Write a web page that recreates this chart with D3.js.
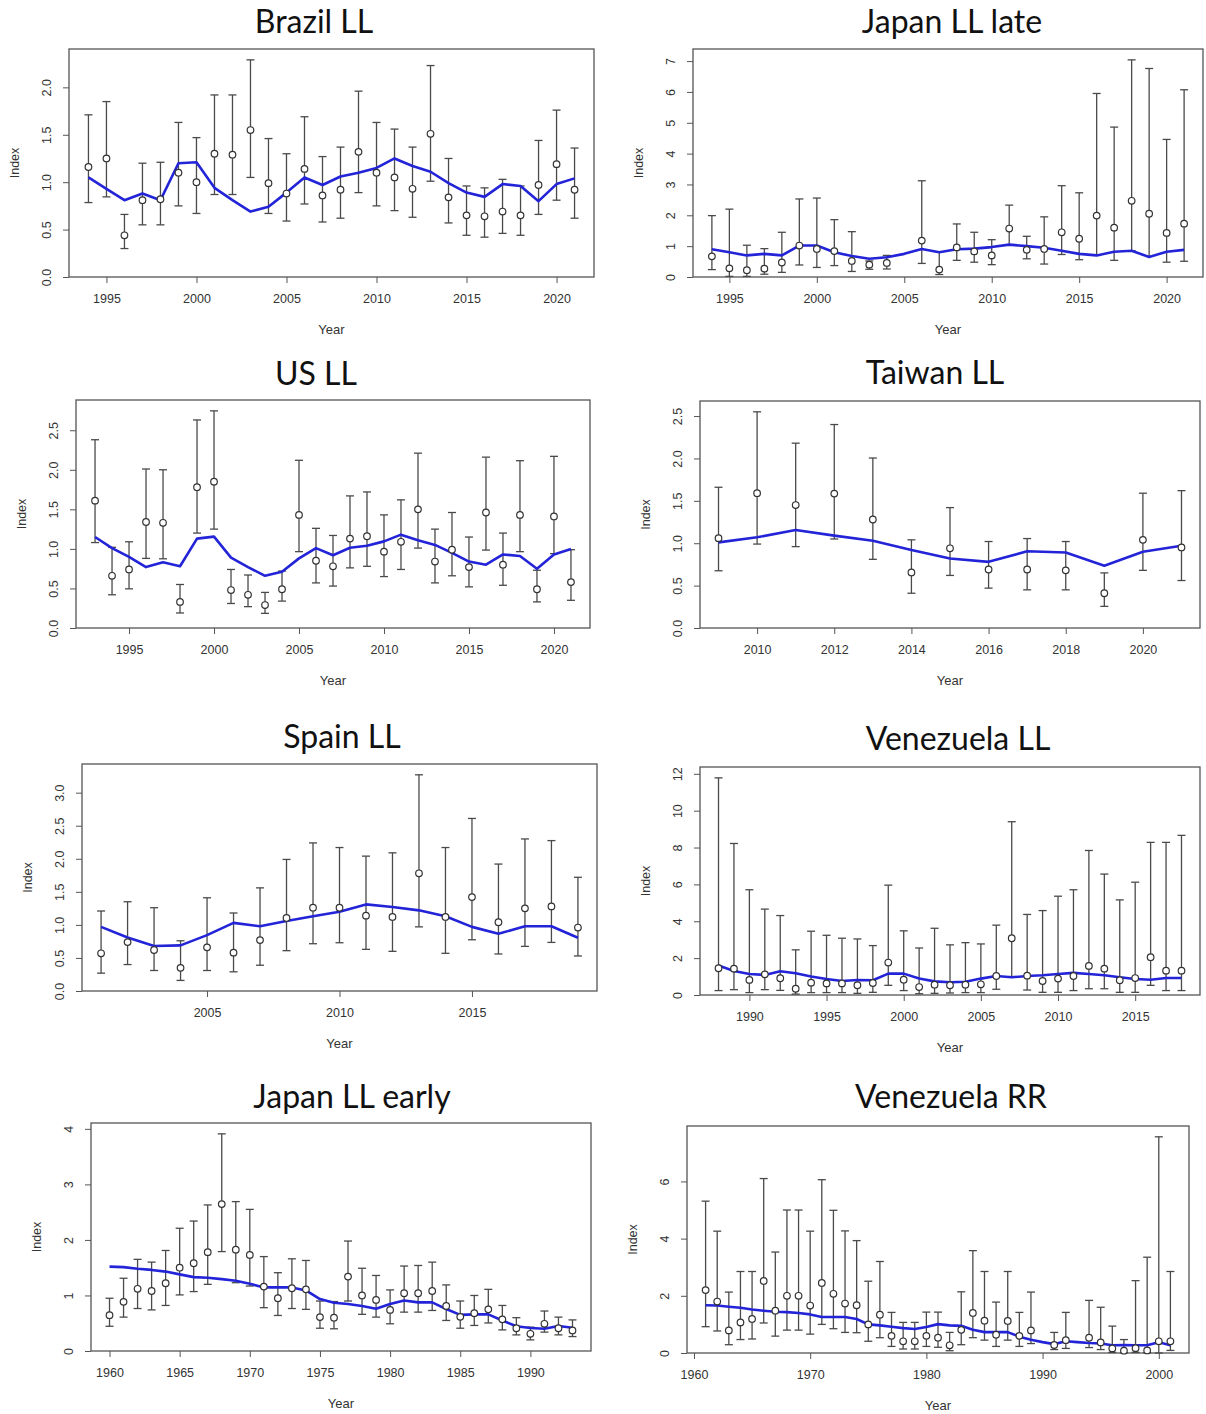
<!DOCTYPE html>
<html><head><meta charset="utf-8">
<script src="https://cdn.jsdelivr.net/npm/d3@7"></script>
<style>body{margin:0;background:#fff}svg{display:block}</style>
</head><body>
<svg id="c" width="1206" height="1414"></svg>
<script>
// ---------------- DATA ----------------
const brazilYears = [1994,1995,1996,1997,1998,1999,2000,2001,2002,2003,2004,2005,2006,2007,2008,2009,2010,2011,2012,2013,2014,2015,2016,2017,2018,2019,2020,2021];
const brazilObs = [1.16,1.25,0.44,0.81,0.82,1.10,1.00,1.30,1.29,1.55,0.99,0.88,1.14,0.86,0.92,1.32,1.10,1.05,0.93,1.51,0.84,0.65,0.64,0.69,0.65,0.97,1.19,0.92];
const brazilHi = [1.71,1.85,0.66,1.20,1.21,1.63,1.47,1.92,1.92,2.29,1.46,1.30,1.69,1.27,1.37,1.96,1.63,1.56,1.37,2.23,1.25,0.96,0.94,1.03,0.96,1.44,1.76,1.36];
const brazilLo = [0.785,0.845,0.30,0.55,0.55,0.75,0.67,0.87,0.87,1.05,0.67,0.59,0.77,0.58,0.62,0.89,0.75,0.70,0.63,1.01,0.57,0.44,0.42,0.46,0.44,0.66,0.81,0.62];
const brazilFit = [1.05,0.93,0.81,0.88,0.81,1.20,1.21,0.94,0.81,0.69,0.74,0.89,1.05,0.97,1.06,1.10,1.15,1.25,1.17,1.11,0.99,0.89,0.845,0.98,0.96,0.80,0.98,1.04];

const japanLateYears = [1994,1995,1996,1997,1998,1999,2000,2001,2002,2003,2004,2005,2006,2007,2008,2009,2010,2011,2012,2013,2014,2015,2016,2017,2018,2019,2020,2021];
const japanLateObs = [0.67,0.28,0.22,0.27,0.47,1.02,0.91,0.84,0.52,0.40,0.455,null,1.18,0.24,0.96,0.83,0.70,1.57,0.88,0.91,1.45,1.24,1.99,1.60,2.47,2.05,1.43,1.73];
const japanLateHi = [1.99,2.20,1.03,0.92,1.45,2.53,2.56,1.86,1.47,0.52,0.70,null,3.12,0.82,1.72,1.45,1.21,2.33,1.32,1.95,2.96,2.73,5.95,4.86,7.04,6.76,4.46,6.07];
const japanLateLo = [0.24,0.02,0.02,0.09,0.15,0.39,0.31,0.37,0.18,0.25,0.26,null,0.44,0.08,0.54,0.48,0.40,1.05,0.59,0.42,0.73,0.56,0.70,0.54,0.85,0.67,0.48,0.51];
const japanLateFit = [0.90,0.80,0.70,0.75,0.70,1.02,1.02,0.80,0.68,0.59,0.64,0.75,0.91,0.80,0.90,0.92,0.97,1.05,1.00,0.95,0.85,0.75,0.70,0.82,0.85,0.65,0.82,0.88];

const usYears = [1993,1994,1995,1996,1997,1998,1999,2000,2001,2002,2003,2004,2005,2006,2007,2008,2009,2010,2011,2012,2013,2014,2015,2016,2017,2018,2019,2020,2021];
const usObs = [1.61,0.66,0.74,1.34,1.33,0.33,1.78,1.85,0.48,0.42,0.29,0.49,1.43,0.85,0.78,1.13,1.16,0.965,1.09,1.50,0.84,0.99,0.77,1.46,0.80,1.43,0.49,1.41,0.58];
const usHi = [2.38,1.02,1.09,2.01,2.00,0.55,2.63,2.745,0.74,0.67,0.45,0.72,2.12,1.26,1.17,1.67,1.72,1.43,1.62,2.21,1.25,1.46,1.15,2.16,1.20,2.115,0.73,2.17,0.99];
const usLo = [1.08,0.42,0.495,0.88,0.875,0.19,1.20,1.25,0.31,0.27,0.185,0.34,0.965,0.57,0.53,0.76,0.78,0.65,0.74,1.01,0.57,0.66,0.52,0.985,0.54,0.965,0.33,0.94,0.35];
const usFit = [1.15,1.01,0.90,0.77,0.83,0.78,1.13,1.155,0.89,0.77,0.66,0.71,0.88,1.01,0.92,1.015,1.04,1.095,1.18,1.11,1.05,0.95,0.84,0.80,0.93,0.91,0.75,0.93,1.00];

const taiwanYears = [2009,2010,2011,2012,2013,2014,2015,2016,2017,2018,2019,2020,2021];
const taiwanObs = [1.06,1.59,1.45,1.585,1.28,0.655,0.94,0.69,0.69,0.68,0.41,1.04,0.95];
const taiwanHi = [1.66,2.55,2.18,2.40,2.005,1.04,1.42,1.02,1.055,1.02,0.65,1.59,1.62];
const taiwanLo = [0.675,0.99,0.96,1.05,0.81,0.41,0.62,0.47,0.45,0.45,0.255,0.68,0.56];
const taiwanFit = [1.01,1.07,1.155,1.09,1.03,0.92,0.82,0.78,0.905,0.89,0.735,0.90,0.97];

const spainYears = [2001,2002,2003,2004,2005,2006,2007,2008,2009,2010,2011,2012,2013,2014,2015,2016,2017,2018,2019];
const spainObs = [0.57,0.74,0.62,0.35,0.66,0.58,0.77,1.105,1.26,1.26,1.14,1.12,1.78,1.12,1.42,1.04,1.25,1.28,0.96];
const spainHi = [1.21,1.35,1.26,0.76,1.41,1.18,1.56,1.99,2.24,2.17,2.04,2.09,3.27,2.17,2.61,1.92,2.30,2.275,1.72];
const spainLo = [0.27,0.40,0.31,0.16,0.31,0.29,0.39,0.61,0.715,0.73,0.63,0.60,0.97,0.57,0.775,0.56,0.675,0.735,0.53];
const spainFit = [0.97,0.81,0.68,0.69,0.845,1.03,0.98,1.06,1.13,1.20,1.31,1.27,1.22,1.13,0.97,0.865,0.98,0.98,0.805];

const venLLYears = [1988,1989,1990,1991,1992,1993,1994,1995,1996,1997,1998,1999,2000,2001,2002,2003,2004,2005,2006,2007,2008,2009,2010,2011,2012,2013,2014,2015,2016,2017,2018];
const venLLObs = [1.45,1.43,0.82,1.12,0.91,0.34,0.67,0.63,0.63,0.53,0.65,1.76,0.83,0.43,0.56,0.53,0.56,0.58,1.03,3.08,1.05,0.76,0.89,1.03,1.58,1.43,0.80,0.92,2.05,1.32,1.32];
const venLLHi = [11.78,8.22,5.71,4.66,4.31,2.45,3.46,3.24,3.08,3.04,2.68,5.96,3.48,2.55,3.62,2.72,2.84,2.77,3.79,9.40,4.37,4.58,5.36,5.71,7.84,6.56,5.16,6.12,8.28,8.28,8.66];
const venLLLo = [0.24,0.29,0.13,0.29,0.25,0.05,0.13,0.13,0.13,0.09,0.145,0.525,0.24,0.07,0.09,0.11,0.13,0.13,0.31,1.0,0.27,0.145,0.145,0.24,0.34,0.34,0.145,0.145,0.525,0.24,0.24];
const venLLFit = [1.60,1.30,1.14,1.09,1.29,1.18,1.00,0.87,0.76,0.815,0.80,1.16,1.16,0.89,0.74,0.69,0.72,0.89,1.03,0.96,1.03,1.07,1.14,1.20,1.14,1.07,0.96,0.87,0.83,0.92,0.92];

const japanEarlyYears = [1960,1961,1962,1963,1964,1965,1966,1967,1968,1969,1970,1971,1972,1973,1974,1975,1976,1977,1978,1979,1980,1981,1982,1983,1984,1985,1986,1987,1988,1989,1990,1991,1992,1993];
const japanEarlyObs = [0.645,0.885,1.12,1.08,1.22,1.50,1.58,1.78,2.645,1.825,1.73,1.16,0.95,1.13,1.11,0.61,0.60,1.34,1.00,0.92,0.74,1.04,1.04,1.08,0.81,0.615,0.68,0.75,0.57,0.41,0.31,0.49,0.41,0.37];
const japanEarlyHi = [0.95,1.31,1.65,1.60,1.81,2.21,2.34,2.63,3.91,2.69,2.55,1.70,1.41,1.66,1.63,0.90,0.89,1.98,1.49,1.36,1.10,1.53,1.54,1.60,1.19,0.90,1.00,1.11,0.82,0.60,0.43,0.72,0.61,0.56];
const japanEarlyLo = [0.445,0.61,0.765,0.74,0.82,1.01,1.07,1.20,1.79,1.23,1.17,0.78,0.64,0.765,0.75,0.41,0.40,0.90,0.66,0.61,0.49,0.70,0.70,0.73,0.55,0.41,0.46,0.505,0.38,0.29,0.20,0.34,0.29,0.26];
const japanEarlyFit = [1.52,1.51,1.48,1.46,1.43,1.38,1.33,1.32,1.295,1.265,1.21,1.145,1.145,1.145,1.09,0.935,0.87,0.845,0.81,0.76,0.845,0.91,0.875,0.875,0.755,0.65,0.66,0.66,0.55,0.445,0.415,0.40,0.45,0.42];

const venRRYears = [1961,1962,1963,1964,1965,1966,1967,1968,1969,1970,1971,1972,1973,1974,1975,1976,1977,1978,1979,1980,1981,1982,1983,1984,1985,1986,1987,1988,1989,1990,1991,1992,1993,1994,1995,1996,1997,1998,1999,2000,2001];
const venRRObs = [2.2,1.80,0.79,1.07,1.19,2.52,1.48,2.0,2.0,1.66,2.45,2.07,1.73,1.67,1.0,1.34,0.60,0.41,0.41,0.60,0.535,0.27,0.81,1.40,1.13,0.64,1.12,0.60,0.79,null,0.28,0.45,null,0.535,0.37,0.16,0.08,0.17,0.09,0.41,0.41];
const venRRHi = [5.31,4.26,2.13,2.85,2.85,6.10,3.53,5.0,5.0,4.26,6.06,4.99,4.27,3.93,2.51,3.20,1.42,1.07,1.07,1.43,1.43,0.72,2.14,3.58,2.85,1.78,2.85,1.42,2.13,null,0.72,1.42,null,1.84,1.60,0.94,0.47,2.53,3.35,7.56,2.85];
const venRRLo = [0.92,0.77,0.29,0.47,0.49,1.05,0.59,0.80,0.80,0.66,1.0,0.85,0.72,0.71,0.41,0.535,0.23,0.14,0.14,0.23,0.20,0.08,0.29,0.535,0.45,0.23,0.45,0.23,0.33,null,0.12,0.16,null,0.19,0.12,0.02,0.01,0.02,0.01,0.0,0.09];
const venRRFit = [1.67,1.66,1.62,1.58,1.52,1.48,1.44,1.43,1.40,1.35,1.26,1.26,1.26,1.19,1.0,0.965,0.92,0.87,0.84,0.91,1.01,0.965,0.95,0.81,0.73,0.73,0.73,0.57,0.465,0.38,0.31,0.41,0.38,0.35,0.33,0.27,0.28,0.27,0.27,0.38,0.27];

// tick labels
const titles = ["Brazil LL","Japan LL late","US LL","Taiwan LL","Spain LL","Venezuela LL","Japan LL early","Venezuela RR"];
const xTicksA = [1995,2000,2005,2010,2015,2020];
const xTicksTaiwan = [2010,2012,2014,2016,2018,2020];
const xTicksSpain = [2005,2010,2015];
const xTicksVenLL = [1990,1995,2000,2005,2010,2015];
const xTicksJapanEarly = [1960,1965,1970,1975,1980,1985,1990];
const xTicksVenRR = [1960,1970,1980,1990,2000];
const yTicksHalf25 = [0,0.5,1.0,1.5,2.0];
const yTicksJapanLate = [0,1,2,3,4,5,6,7];
const yTicksHalf30 = [0,0.5,1.0,1.5,2.0,2.5];
const yTicksSpain = [0,0.5,1.0,1.5,2.0,2.5,3.0];
const yTicksVenLL = [0,2,4,6,8,10,12];
const yTicksJapanEarly = [0,1,2,3,4];
const yTicksVenRR = [0,2,4,6];

// ---------------- LAYOUT ----------------
const layout = [
  {l:69, r:594, t:49, b:277, tx:314, ty:33},
  {l:693, r:1203, t:49, b:277, tx:952, ty:33},
  {l:76, r:590, t:400, b:628, tx:316, ty:385},
  {l:700, r:1200, t:401, b:628, tx:935, ty:384},
  {l:82, r:597, t:764, b:991, tx:342, ty:748},
  {l:700, r:1200, t:767, b:995, tx:958, ty:750},
  {l:91, r:591, t:1123, b:1351, tx:352, ty:1108},
  {l:687, r:1189, t:1126, b:1353, tx:951, ty:1108}
];

const panels = [
  {years:brazilYears, obs:brazilObs, hi:brazilHi, lo:brazilLo, fit:brazilFit, xt:xTicksA, yt:yTicksHalf25, fmt:".1f"},
  {years:japanLateYears, obs:japanLateObs, hi:japanLateHi, lo:japanLateLo, fit:japanLateFit, xt:xTicksA, yt:yTicksJapanLate, fmt:"d"},
  {years:usYears, obs:usObs, hi:usHi, lo:usLo, fit:usFit, xt:xTicksA, yt:yTicksHalf30, fmt:".1f"},
  {years:taiwanYears, obs:taiwanObs, hi:taiwanHi, lo:taiwanLo, fit:taiwanFit, xt:xTicksTaiwan, yt:yTicksHalf30, fmt:".1f"},
  {years:spainYears, obs:spainObs, hi:spainHi, lo:spainLo, fit:spainFit, xt:xTicksSpain, yt:yTicksSpain, fmt:".1f"},
  {years:venLLYears, obs:venLLObs, hi:venLLHi, lo:venLLLo, fit:venLLFit, xt:xTicksVenLL, yt:yTicksVenLL, fmt:"d"},
  {years:japanEarlyYears, obs:japanEarlyObs, hi:japanEarlyHi, lo:japanEarlyLo, fit:japanEarlyFit, xt:xTicksJapanEarly, yt:yTicksJapanEarly, fmt:"d"},
  {years:venRRYears, obs:venRRObs, hi:venRRHi, lo:venRRLo, fit:venRRFit, xt:xTicksVenRR, yt:yTicksVenRR, fmt:"d"}
];

const svg = d3.select("#c");
const axisCol = "#555", textCol = "#333";

panels.forEach((p, i) => {
  const L = layout[i];
  const x0 = d3.min(p.years), x1 = d3.max(p.years), pad = (x1 - x0) * 0.04;
  const x = d3.scaleLinear().domain([x0 - pad, x1 + pad]).range([L.l, L.r]);
  const y = d3.scaleLinear().domain([0, d3.max(p.hi) * 1.05]).range([L.b, L.t]);
  const g = svg.append("g");

  // title
  svg.append("text").attr("x", L.tx).attr("y", L.ty).attr("text-anchor", "middle")
    .attr("font-family", "Lato, 'Open Sans', sans-serif").attr("font-size", 32)
    .attr("fill", "#111").text(titles[i]);

  // x axis
  const xa = g.append("g").attr("transform", `translate(0,${L.b})`)
    .call(d3.axisBottom(x).tickValues(p.xt).tickSize(6).tickPadding(11).tickFormat(d3.format("d")));
  xa.select(".domain").remove();
  xa.selectAll("line").attr("stroke", axisCol);
  xa.selectAll("text").attr("font-family", "'Liberation Sans', Arial, sans-serif").attr("font-size", 12.5).attr("fill", textCol);

  // y axis
  const ya = g.append("g").attr("transform", `translate(${L.l},0)`)
    .call(d3.axisLeft(y).tickValues(p.yt).tickSize(6).tickFormat(d3.format(p.fmt)));
  ya.select(".domain").remove();
  ya.selectAll("line").attr("stroke", axisCol);
  ya.selectAll("text").attr("x", null).attr("dy", null)
    .attr("transform", "translate(-18,0) rotate(-90)").attr("text-anchor", "middle")
    .attr("font-family", "'Liberation Sans', Arial, sans-serif").attr("font-size", 12.5).attr("fill", textCol);

  // box
  g.append("rect").attr("x", L.l).attr("y", L.t).attr("width", L.r - L.l).attr("height", L.b - L.t)
    .attr("fill", "none").attr("stroke", axisCol).attr("stroke-width", 1.3);

  // axis titles
  g.append("text").attr("x", (L.l + L.r) / 2).attr("y", L.b + 57).attr("text-anchor", "middle")
    .attr("font-family", "'Liberation Sans', Arial, sans-serif").attr("font-size", 13).attr("fill", textCol).text("Year");
  g.append("text").attr("transform", `translate(${L.l - 50},${(L.t + L.b) / 2}) rotate(-90)`).attr("text-anchor", "middle")
    .attr("font-family", "'Liberation Sans', Arial, sans-serif").attr("font-size", 12.5).attr("fill", textCol).text("Index");

  const idx = d3.range(p.years.length).filter(k => p.obs[k] != null);

  // error bars
  const eb = g.append("g").attr("stroke", "#4a4a4a").attr("stroke-width", 1.3);
  idx.forEach(k => {
    const cx = x(p.years[k]);
    eb.append("line").attr("x1", cx).attr("x2", cx).attr("y1", y(p.lo[k])).attr("y2", y(p.hi[k]));
    eb.append("line").attr("x1", cx - 4).attr("x2", cx + 4).attr("y1", y(p.lo[k])).attr("y2", y(p.lo[k]));
    eb.append("line").attr("x1", cx - 4).attr("x2", cx + 4).attr("y1", y(p.hi[k])).attr("y2", y(p.hi[k]));
  });

  // fitted line
  const line = d3.line().x((d, k) => x(p.years[k])).y(d => y(d));
  g.append("path").attr("d", line(p.fit)).attr("fill", "none").attr("stroke", "#2323d8")
    .attr("stroke-width", 2.6).attr("stroke-linejoin", "round");

  // points
  g.append("g").selectAll("circle").data(idx).join("circle")
    .attr("cx", k => x(p.years[k])).attr("cy", k => y(p.obs[k])).attr("r", 3.3)
    .attr("fill", "#fff").attr("stroke", "#333").attr("stroke-width", 1.2);
});
</script>
</body></html>
